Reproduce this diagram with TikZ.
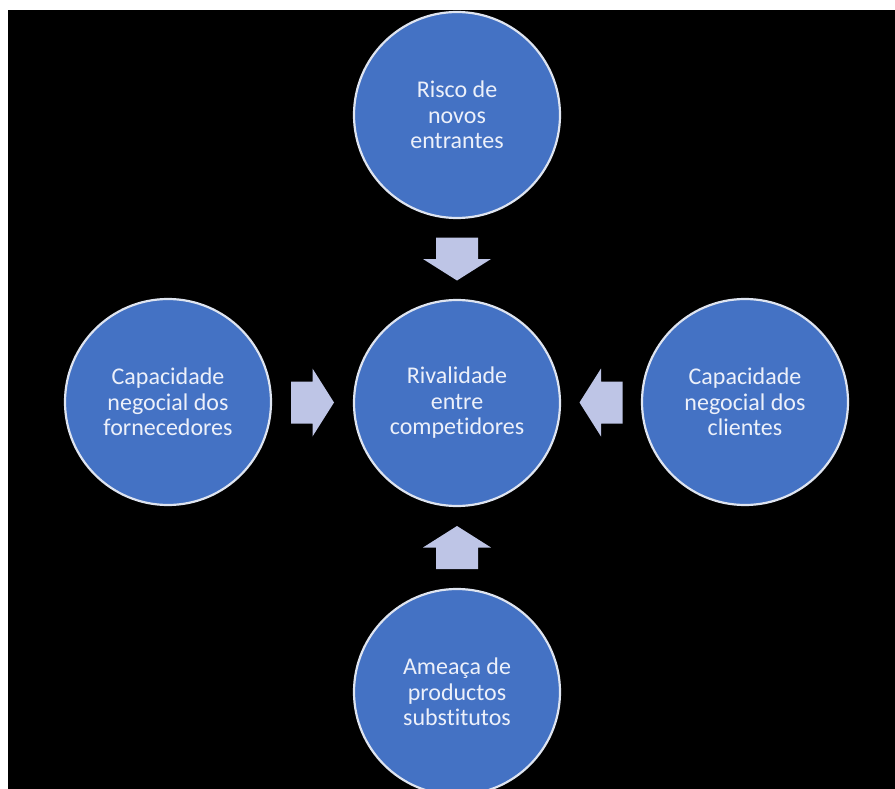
\documentclass[tikz,border=0pt]{standalone}
\usepackage{fontspec}
\setmainfont[Ligatures=NoCommon]{Carlito}
\usetikzlibrary{calc}
\definecolor{forceblue}{RGB}{68,114,196}
\definecolor{ringline}{RGB}{222,228,240}
\definecolor{arrowfill}{RGB}{190,197,230}
\definecolor{labeltext}{RGB}{236,240,250}
\tikzset{
  force/.style={circle, fill=forceblue, draw=ringline, line width=2.2pt,
    minimum size=206pt, inner sep=0pt, align=center, text=labeltext,
    font=\fontsize{24}{25.5}\selectfont},
  push/.style={fill=arrowfill, draw=none}
}
% block arrow centred on #1, pointing in page direction #2 (degrees)
\newcommand\blockarrow[2]{%
  \begin{scope}[shift={(#1)}, rotate=#2]
    \fill[push] (-21.5,-21) -- (0,-21) -- (0,-34) -- (21.5,0)
      -- (0,34) -- (0,21) -- (-21.5,21) -- cycle;
  \end{scope}}
\begin{document}
\begin{tikzpicture}[x=1pt,y=-1pt]
  % page and black panel
  \fill[white] (0,0) rectangle (895,789);
  \useasboundingbox (0,0) rectangle (895,789);
  \fill[black] (8,10) rectangle (895,789);

  % the five forces
  \node[force] (rival) at (457,403) {Rivalidade\\entre\\competidores};
  \node[force] (entry) at (457,115) {Risco de\\novos\\entrantes};
  \node[force] (supp)  at (168,402) {Capacidade\\negocial dos\\fornecedores};
  \node[force] (cust)  at (745,402) {Capacidade\\negocial dos\\clientes};
  \node[force] (subst) at (457,692) {Ameaça de\\productos\\substitutos};

  % block arrows midway between each outer force and the centre
  \coordinate (aentry) at ($(entry.south)!0.5!(rival.north)$);
  \coordinate (asupp)  at ($(supp.east)!0.5!(rival.west)$);
  \coordinate (acust)  at ($(cust.west)!0.5!(rival.east)$);
  \coordinate (asubst) at ($(subst.north)!0.5!(rival.south)$);
  \blockarrow{aentry}{-90}
  \blockarrow{asupp}{0}
  \blockarrow{acust}{180}
  \blockarrow{asubst}{90}
\end{tikzpicture}
\end{document}
